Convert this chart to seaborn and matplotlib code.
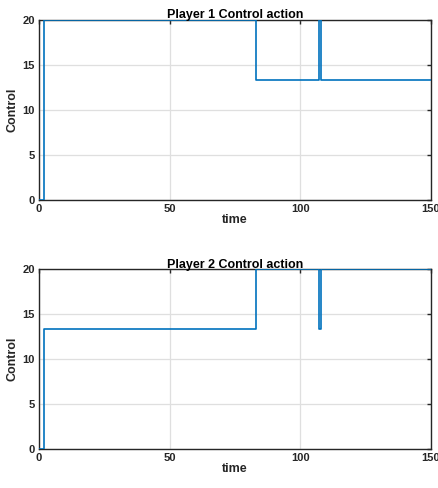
import matplotlib
matplotlib.use("Agg")
import matplotlib.pyplot as plt
import seaborn as sns
import pandas as pd

# Switching instants and the control level held from each instant onward
time = [0, 2, 83, 107, 108, 150]
player1 = [0, 20, 40 / 3, 20, 40 / 3, 40 / 3]
player2 = [0, 40 / 3, 20, 40 / 3, 20, 20]

xticks = [0, 50, 100, 150]
yticks = [0, 5, 10, 15, 20]

sns.set_theme(style="white")
plt.rcParams["font.family"] = ["Liberation Sans", "DejaVu Sans"]
plt.rcParams["font.weight"] = "bold"

LINE = "#0072BD"
AX = "#262626"

fig = plt.figure(figsize=(4.39, 4.88), dpi=100)
boxes = [
    [0.0888, 0.590, 0.893, 0.370],
    [0.0888, 0.0793, 0.893, 0.369],
]
series = [("Player 1 Control action", player1), ("Player 2 Control action", player2)]

for box, (title, vals) in zip(boxes, series):
    ax = fig.add_axes(box)
    df = pd.DataFrame({"time": time, "Control": vals})
    sns.lineplot(data=df, x="time", y="Control", ax=ax, color=LINE,
                 linewidth=1.2, drawstyle="steps-post", estimator=None,
                 sort=False, zorder=3)
    ax.set_xlim(0, 150)
    ax.set_ylim(0, 20)
    ax.set_xticks(xticks)
    ax.set_yticks(yticks)
    ax.grid(True, color="#dfdfdf", linewidth=0.9, zorder=0)
    ax.set_axisbelow(True)
    for s in ax.spines.values():
        s.set_visible(True)
        s.set_color(AX)
        s.set_linewidth(1.0)
    ax.tick_params(direction="in", length=3, width=1.0, colors=AX,
                   labelsize=8, labelcolor="#262626", top=True, right=True,
                   pad=3)
    for lab in ax.get_xticklabels() + ax.get_yticklabels():
        lab.set_fontweight("bold")
    ax.set_title(title, fontsize=9, fontweight="bold", pad=1, color="black")
    ax.set_xlabel("time", fontsize=9, fontweight="bold", labelpad=0)
    ax.set_ylabel("Control", fontsize=9, fontweight="bold", labelpad=3)

fig.savefig("out.png", dpi=100, facecolor="white")
